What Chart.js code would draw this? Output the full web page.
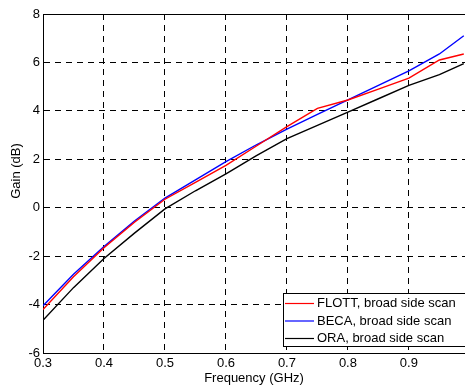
<!DOCTYPE html>
<html><head><meta charset="utf-8">
<script src="https://cdn.jsdelivr.net/npm/chart.js@4/dist/chart.umd.min.js"></script>
<style>html,body{margin:0;padding:0;background:#fff}</style>
</head><body>
<canvas id="c" width="465" height="387"></canvas>
<script>
const frequency = [0.3, 0.35, 0.4, 0.45, 0.5, 0.55, 0.6, 0.65, 0.7, 0.75, 0.8, 0.85, 0.9, 0.95, 0.99];
const flott = [-4.2, -2.85, -1.65, -0.6, 0.35, 1.05, 1.75, 2.55, 3.35, 4.1, 4.45, 4.9, 5.35, 6.1, 6.35];
const beca  = [-4.05, -2.75, -1.6, -0.55, 0.4, 1.15, 1.9, 2.6, 3.25, 3.85, 4.45, 5.05, 5.65, 6.35, 7.1];
const ora   = [-4.65, -3.3, -2.1, -1.05, -0.05, 0.7, 1.4, 2.15, 2.85, 3.4, 3.95, 4.5, 5.05, 5.5, 5.95];
const seriesNames = ['FLOTT, broad side scan', 'BECA, broad side scan', 'ORA, broad side scan'];
const seriesColors = ['#ff0000', '#0000ff', '#000000'];
const xTicks = [0.3, 0.4, 0.5, 0.6, 0.7, 0.8, 0.9];
const yTicks = [-6, -4, -2, 0, 2, 4, 6, 8];
const xTitle = 'Frequency (GHz)';
const yTitle = 'Gain (dB)';

const FONT = {family: '"Liberation Sans", Arial, sans-serif', size: 13};
const CSSFONT = '13px "Liberation Sans", Arial, sans-serif';

function pts(ys) { return frequency.map((f, i) => ({x: f, y: ys[i]})); }

const boxPlugin = {
  id: 'box',
  afterDraw(chart) {
    const {ctx, chartArea: a} = chart;
    ctx.save();
    ctx.strokeStyle = '#000';
    ctx.lineWidth = 1;
    ctx.beginPath();
    ctx.moveTo(a.left, a.top + 0.5);
    ctx.lineTo(a.right, a.top + 0.5);
    ctx.stroke();
    // y axis title
    ctx.fillStyle = '#000';
    ctx.font = CSSFONT;
    ctx.textAlign = 'center';
    ctx.textBaseline = 'middle';
    ctx.save();
    ctx.translate(16, 171);
    ctx.rotate(-Math.PI / 2);
    ctx.fillText(yTitle, 0, 0);
    ctx.restore();
    // legend
    const lx = 283.5, ly = 293.5, lw = 200, lh = 53;
    ctx.fillStyle = '#fff';
    ctx.fillRect(lx, ly, lw, lh);
    ctx.strokeRect(lx, ly, lw, lh);
    ctx.textBaseline = 'middle';
    ctx.textAlign = 'left';
    chart.data.datasets.forEach((ds, i) => {
      const y = 303.5 + i * 17.5;
      ctx.strokeStyle = ds.borderColor;
      ctx.lineWidth = 1.2;
      ctx.beginPath();
      ctx.moveTo(285, y);
      ctx.lineTo(314, y);
      ctx.stroke();
      ctx.fillStyle = '#000';
      ctx.fillText(ds.label, 317, y);
    });
    ctx.restore();
  }
};

new Chart(document.getElementById('c'), {
  type: 'line',
  data: {
    datasets: [flott, beca, ora].map((s, i) => ({
      label: seriesNames[i],
      data: pts(s),
      borderColor: seriesColors[i],
      backgroundColor: seriesColors[i],
      borderWidth: 1.4,
      pointRadius: 0,
      tension: 0,
      fill: false
    }))
  },
  options: {
    responsive: false,
    animation: false,
    devicePixelRatio: 1,
    layout: {padding: {top: 14, right: 0, left: 0, bottom: 0}},
    plugins: {legend: {display: false}, tooltip: {enabled: false}},
    scales: {
      x: {
        type: 'linear',
        min: 0.3,
        max: 0.992,
        afterBuildTicks: s => { s.ticks = xTicks.map(v => ({value: v})); },
        afterFit: s => { s.height = 34; },
        ticks: {callback: v => v.toFixed(1), font: FONT, color: '#000', padding: 3, maxRotation: 0},
        grid: {color: '#000', lineWidth: 1, drawTicks: false},
        border: {display: true, color: '#000', width: 1, dash: [6, 5]},
        title: {display: true, text: xTitle, font: FONT, color: '#000', padding: {top: 0, bottom: 1}}
      },
      y: {
        type: 'linear',
        min: -6,
        max: 8,
        afterBuildTicks: s => { s.ticks = yTicks.map(v => ({value: v})); },
        afterFit: s => { s.width = 43; },
        ticks: {font: FONT, color: '#000', padding: 3},
        grid: {color: '#000', lineWidth: 1, drawTicks: false},
        border: {display: true, color: '#000', width: 1, dash: [6, 5]}
      }
    }
  },
  plugins: [boxPlugin]
});
</script>
</body></html>
